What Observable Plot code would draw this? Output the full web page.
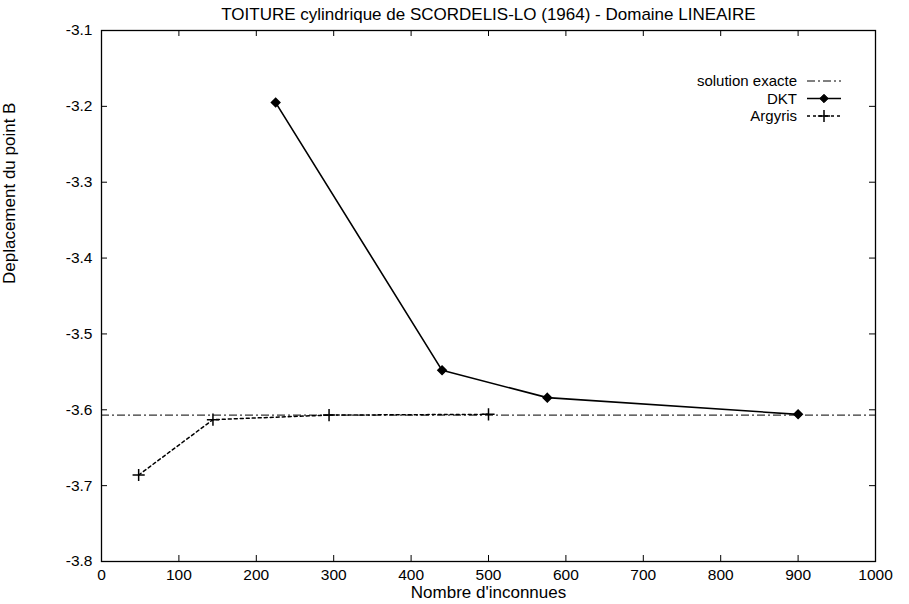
<!DOCTYPE html>
<html>
<head>
<meta charset="utf-8">
<script src="https://cdn.jsdelivr.net/npm/d3@7"></script>
<script src="https://cdn.jsdelivr.net/npm/@observablehq/plot@0.6"></script>
<style>
  html, body { margin: 0; padding: 0; background: white; }
</style>
</head>
<body>
<div id="chart"></div>
<script>
const titleText = "TOITURE cylindrique de SCORDELIS-LO (1964) - Domaine LINEAIRE";
const xLabel = "Nombre d'inconnues";
const yLabel = "Deplacement du point B";

const xTicks = [0, 100, 200, 300, 400, 500, 600, 700, 800, 900, 1000];
const yTicks = [-3.8, -3.7, -3.6, -3.5, -3.4, -3.3, -3.2, -3.1];

const exactSolution = -3.607;

const dktN = [225, 440, 576, 900];
const dktV = [-3.195, -3.548, -3.584, -3.606];

const argyrisN = [48, 144, 294, 500];
const argyrisV = [-3.686, -3.613, -3.607, -3.606];

const legendLabels = ["solution exacte", "DKT", "Argyris"];

const dkt = dktN.map((n, i) => ({n, v: dktV[i]}));
const argyris = argyrisN.map((n, i) => ({n, v: argyrisV[i]}));

const W = 909, H = 604, mL = 101, mR = 34, mT = 30, mB = 43;
const innerW = W - mL - mR, innerH = H - mT - mB, tickLen = 6;
const font = "'Liberation Sans', Arial, Helvetica, sans-serif";

const plot = Plot.plot({
  width: W, height: H,
  marginLeft: mL, marginRight: mR, marginTop: mT, marginBottom: mB,
  x: {domain: [0, 1000]},
  y: {domain: [-3.8, -3.1]},
  style: {fontFamily: font, fontSize: "15.5px", background: "white", color: "black", overflow: "visible"},
  marks: [
    Plot.axisX(xTicks, {tickSize: 0, tickPadding: 7, tickFormat: d => String(d), label: null, fontSize: 15.5}),
    Plot.axisY(yTicks, {tickSize: 0, tickPadding: 9, tickFormat: d => d.toFixed(1), label: null, fontSize: 15.5}),
    // inward ticks on all four sides
    Plot.tickX(xTicks, {x: d => d, insetTop: innerH - tickLen, stroke: "black"}),
    Plot.tickX(xTicks, {x: d => d, insetBottom: innerH - tickLen, stroke: "black"}),
    Plot.tickY(yTicks, {y: d => d, insetRight: innerW - tickLen, stroke: "black"}),
    Plot.tickY(yTicks, {y: d => d, insetLeft: innerW - tickLen, stroke: "black"}),
    Plot.ruleY([exactSolution], {stroke: "black", strokeWidth: 1, strokeDasharray: "8,3,2,3"}),
    Plot.line(argyris, {x: "n", y: "v", stroke: "black", strokeWidth: 1.5, strokeDasharray: "3,3"}),
    Plot.dot(argyris, {x: "n", y: "v", symbol: "plus", r: 4, stroke: "black", strokeWidth: 1.5}),
    Plot.line(dkt, {x: "n", y: "v", stroke: "black", strokeWidth: 1.6}),
    Plot.dot(dkt, {x: "n", y: "v", symbol: "diamond2", r: 3.8, fill: "black", stroke: "black"}),
    Plot.frame({stroke: "black", strokeWidth: 1.3}),
    Plot.text([titleText], {frameAnchor: "top", dy: -16, lineAnchor: "middle", fontSize: 17}),
    Plot.text([xLabel], {frameAnchor: "bottom", dy: 31, lineAnchor: "middle", fontSize: 17}),
    Plot.text([yLabel], {frameAnchor: "left", dx: -92, dy: -12, rotate: -90, lineAnchor: "middle", fontSize: 17})
  ]
});

document.getElementById("chart").appendChild(plot);

// legend (inside plot, top right)
const svg = d3.select(plot);
const lg = svg.append("g").attr("font-family", font).attr("font-size", 15);
const textEnd = W - mR - 78, sx1 = W - mR - 68, sx2 = W - mR - 34, sxm = (sx1 + sx2) / 2;
const rowY = [81, 98.5, 116];
const dashes = ["8,3,2,3", null, "3,3"];
legendLabels.forEach((lab, i) => {
  lg.append("text").attr("x", textEnd).attr("y", rowY[i]).attr("dy", "0.35em")
    .attr("text-anchor", "end").text(lab);
  const ln = lg.append("line").attr("x1", sx1).attr("x2", sx2).attr("y1", rowY[i]).attr("y2", rowY[i])
    .attr("stroke", "black").attr("stroke-width", i === 0 ? 1 : 1.5);
  if (dashes[i]) ln.attr("stroke-dasharray", dashes[i]);
});
lg.append("path").attr("d", d3.symbol(d3.symbolDiamond2, 3.8 * 3.8 * Math.PI)())
  .attr("transform", `translate(${sxm},${rowY[1]})`).attr("fill", "black").attr("stroke", "black");
lg.append("path").attr("d", d3.symbol(d3.symbolPlus, 4 * 4 * Math.PI)())
  .attr("transform", `translate(${sxm},${rowY[2]})`).attr("fill", "none").attr("stroke", "black").attr("stroke-width", 1.5);
</script>
</body>
</html>
